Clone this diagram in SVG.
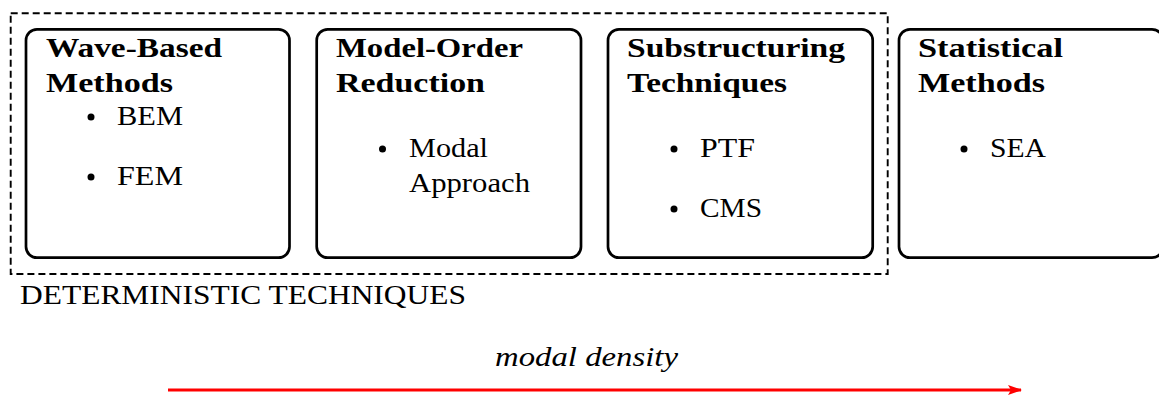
<svg xmlns="http://www.w3.org/2000/svg" width="1159" height="398" viewBox="0 0 1159 398">
<style>
.box{fill:#fff;stroke:#000;stroke-width:2.7}
.t{font-family:"Liberation Serif","Times New Roman",serif;font-weight:bold;font-size:27px;fill:#000}
.b{font-family:"Liberation Serif","Times New Roman",serif;font-size:27px;fill:#000}
.dot{fill:#000}
</style>
<defs>
<marker id="ah" markerWidth="14" markerHeight="10" refX="13" refY="5" orient="auto" markerUnits="userSpaceOnUse">
<path d="M0,0 L14,5 L0,10 L3,5 Z" fill="#f00"/>
</marker>
</defs>
<g id="deterministic-group">
<rect x="10.7" y="13.3" width="877" height="260.7" fill="none" stroke="#000" stroke-width="1.9" stroke-dasharray="7,4"/>
<text class="b" x="20" y="304" textLength="446" lengthAdjust="spacingAndGlyphs">DETERMINISTIC TECHNIQUES</text>
</g>
<g id="wave-based">
<rect class="box" x="26" y="29.3" width="263.5" height="228.4" rx="11"/>
<text class="t" x="46" y="57" textLength="176" lengthAdjust="spacingAndGlyphs">Wave-Based</text>
<text class="t" x="46" y="92" textLength="127" lengthAdjust="spacingAndGlyphs">Methods</text>
<circle class="dot" cx="91" cy="117" r="3.5"/>
<text class="b" x="117" y="125" textLength="66" lengthAdjust="spacingAndGlyphs">BEM</text>
<circle class="dot" cx="91" cy="177" r="3.5"/>
<text class="b" x="117" y="185" textLength="66" lengthAdjust="spacingAndGlyphs">FEM</text>
</g>
<g id="model-order">
<rect class="box" x="316.7" y="29.3" width="264.3" height="228.4" rx="11"/>
<text class="t" x="336" y="57" textLength="187" lengthAdjust="spacingAndGlyphs">Model-Order</text>
<text class="t" x="336" y="92" textLength="149" lengthAdjust="spacingAndGlyphs">Reduction</text>
<circle class="dot" cx="382.5" cy="149" r="3.5"/>
<text class="b" x="409" y="157" textLength="79" lengthAdjust="spacingAndGlyphs">Modal</text>
<text class="b" x="409" y="192" textLength="121" lengthAdjust="spacingAndGlyphs">Approach</text>
</g>
<g id="substructuring">
<rect class="box" x="608" y="29.3" width="264.7" height="228.4" rx="11"/>
<text class="t" x="627" y="57" textLength="218" lengthAdjust="spacingAndGlyphs">Substructuring</text>
<text class="t" x="627" y="92" textLength="160" lengthAdjust="spacingAndGlyphs">Techniques</text>
<circle class="dot" cx="674" cy="149" r="3.5"/>
<text class="b" x="700" y="157" textLength="55" lengthAdjust="spacingAndGlyphs">PTF</text>
<circle class="dot" cx="674" cy="209" r="3.5"/>
<text class="b" x="700" y="217" textLength="62" lengthAdjust="spacingAndGlyphs">CMS</text>
</g>
<g id="statistical">
<rect class="box" x="899" y="29.3" width="264" height="228.4" rx="11"/>
<text class="t" x="918" y="57" textLength="145" lengthAdjust="spacingAndGlyphs">Statistical</text>
<text class="t" x="918" y="92" textLength="127" lengthAdjust="spacingAndGlyphs">Methods</text>
<circle class="dot" cx="964" cy="149" r="3.5"/>
<text class="b" x="990" y="157" textLength="56" lengthAdjust="spacingAndGlyphs">SEA</text>
</g>
<g id="connectors">
<line x1="168" y1="390" x2="1021" y2="390" stroke="#f00" stroke-width="3" marker-end="url(#ah)"/>
<text class="b" x="495" y="366" font-style="italic" textLength="183" lengthAdjust="spacingAndGlyphs">modal density</text>
</g>
</svg>
